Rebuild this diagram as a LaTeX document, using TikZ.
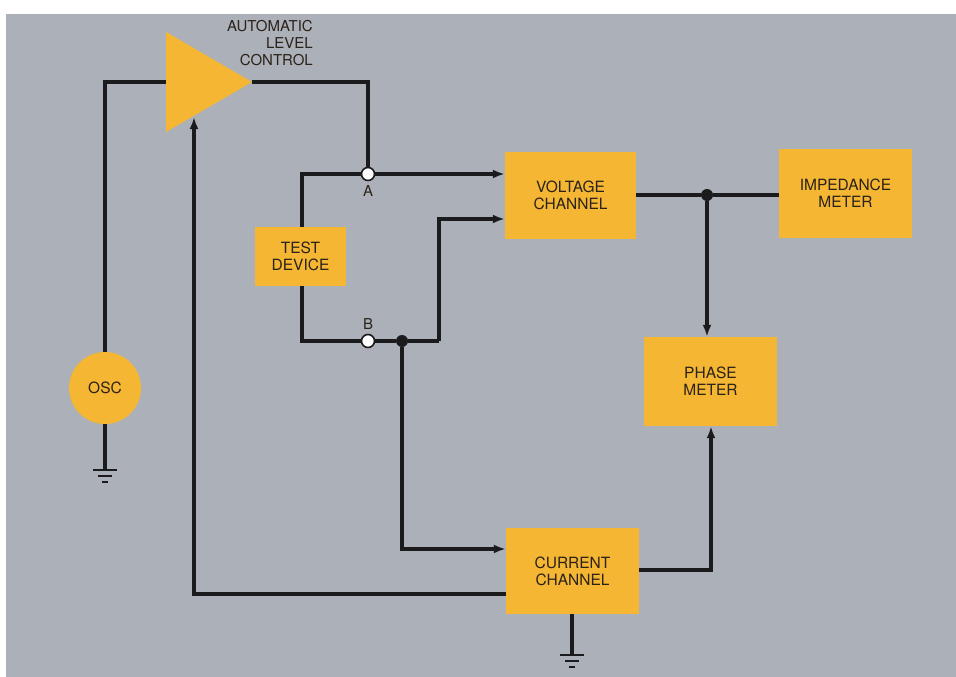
\documentclass[tikz,border=0pt]{standalone}
\usepackage{fontspec}
\setmainfont{TeX Gyre Heros}
\usetikzlibrary{positioning, arrows.meta}
\definecolor{PanelGrey}{HTML}{ACB0B9}
\definecolor{BoxYellow}{HTML}{F4B633}
\definecolor{WireBlack}{HTML}{1B1B1D}
\definecolor{InkBrown}{HTML}{2B2219}

\begin{document}
\begin{tikzpicture}[x=1pt, y=-1pt,
    box/.style={fill=BoxYellow, draw=none, inner sep=0pt, align=center,
      text=InkBrown, font=\fontsize{15.5}{17}\selectfont},
    wire/.style={draw=WireBlack, line width=3.2pt},
    sig/.style={wire, -{Latex[length=12pt, width=9pt]}},
    term/.style={circle, draw=WireBlack, line width=1.6pt, fill=white,
      minimum size=13pt, inner sep=0pt},
    junc/.style={circle, fill=WireBlack, minimum size=12pt, inner sep=0pt},
    lbl/.style={text=InkBrown, font=\fontsize{15}{17}\selectfont, inner sep=0pt},
    earth/.style={draw=WireBlack, line width=2pt}]
  % Frame
  \fill[white] (0,0) rectangle (956,677);
  \fill[PanelGrey] (6,14) rectangle (956,677);
  \useasboundingbox (0,0) rectangle (956,677);

  % Blocks
  \node[box, minimum width=91pt, minimum height=59pt] (test) at (300.5,256.5) {TEST\\DEVICE};
  \node[box, minimum width=131pt, minimum height=87pt] (volt) at (570.5,195.5) {VOLTAGE\\CHANNEL};
  \node[box, minimum width=133pt, minimum height=89pt] (imp) at (845.5,193.5) {IMPEDANCE\\METER};
  \node[box, minimum width=133pt, minimum height=89pt] (phase) at (710.5,381.5) {PHASE\\METER};
  \node[box, minimum width=133pt, minimum height=86pt] (curr) at (572.5,571) {CURRENT\\CHANNEL};
  \node[box, circle, minimum size=72pt] (osc) at (105,388) {OSC};

  % Level control amplifier
  \coordinate (ampin) at (166,82);
  \coordinate (ampout) at (252,82);
  \coordinate (ampfb) at (194,117);
  \fill[BoxYellow] (166,32) -- (ampout) -- (166,132) -- cycle;
  \node[lbl, align=right, anchor=north east] (alc) at (313,20) {AUTOMATIC\\LEVEL\\CONTROL};

  % Terminals and junctions
  \node[term] (A) at (368,174) {};
  \node[lbl, below=4pt of A] (Alab) {A};
  \node[term] (B) at (368,341) {};
  \node[lbl, above=4pt of B] (Blab) {B};
  \node[junc] (jb) at (402,341) {};
  \node[junc] (jv) at (707,195) {};
  \coordinate (bup) at (439,341);

  % Wiring
  \draw[wire] (osc.north) -- (105,82) -- (ampin);
  \draw[wire] (ampout) -| (A.north);
  \draw[wire] (test.north -| 302,0) |- (A.west);
  \draw[sig] (A.east) -- (A.east -| volt.west);
  \draw[wire] (test.south -| 302,0) |- (B.west);
  \draw[wire] (B.east) -- (jb) -- (bup);
  \draw[sig] (bup) |- (volt.west |- 0,219);
  \draw[sig] (jb) |- (curr.west |- 0,549);
  \draw[sig] (curr.west |- 0,594) -| (ampfb);
  \draw[sig] (curr.east |- 0,570) -| (phase.south -| 711,0);
  \draw[wire] (volt.east |- jv) -- (jv) -- (imp.west |- jv);
  \draw[sig] (jv) -- (phase.north -| jv);

  % Grounds
  \draw[wire] (osc.south) -- (105,470);
  \draw[earth] (93,470) -- (117,470) (98,476) -- (112,476) (102,482) -- (108,482);
  \draw[wire] (curr.south -| 572,0) -- (572,655);
  \draw[earth] (560,655) -- (584,655) (565,661) -- (579,661) (569,667) -- (575,667);
\end{tikzpicture}
\end{document}
